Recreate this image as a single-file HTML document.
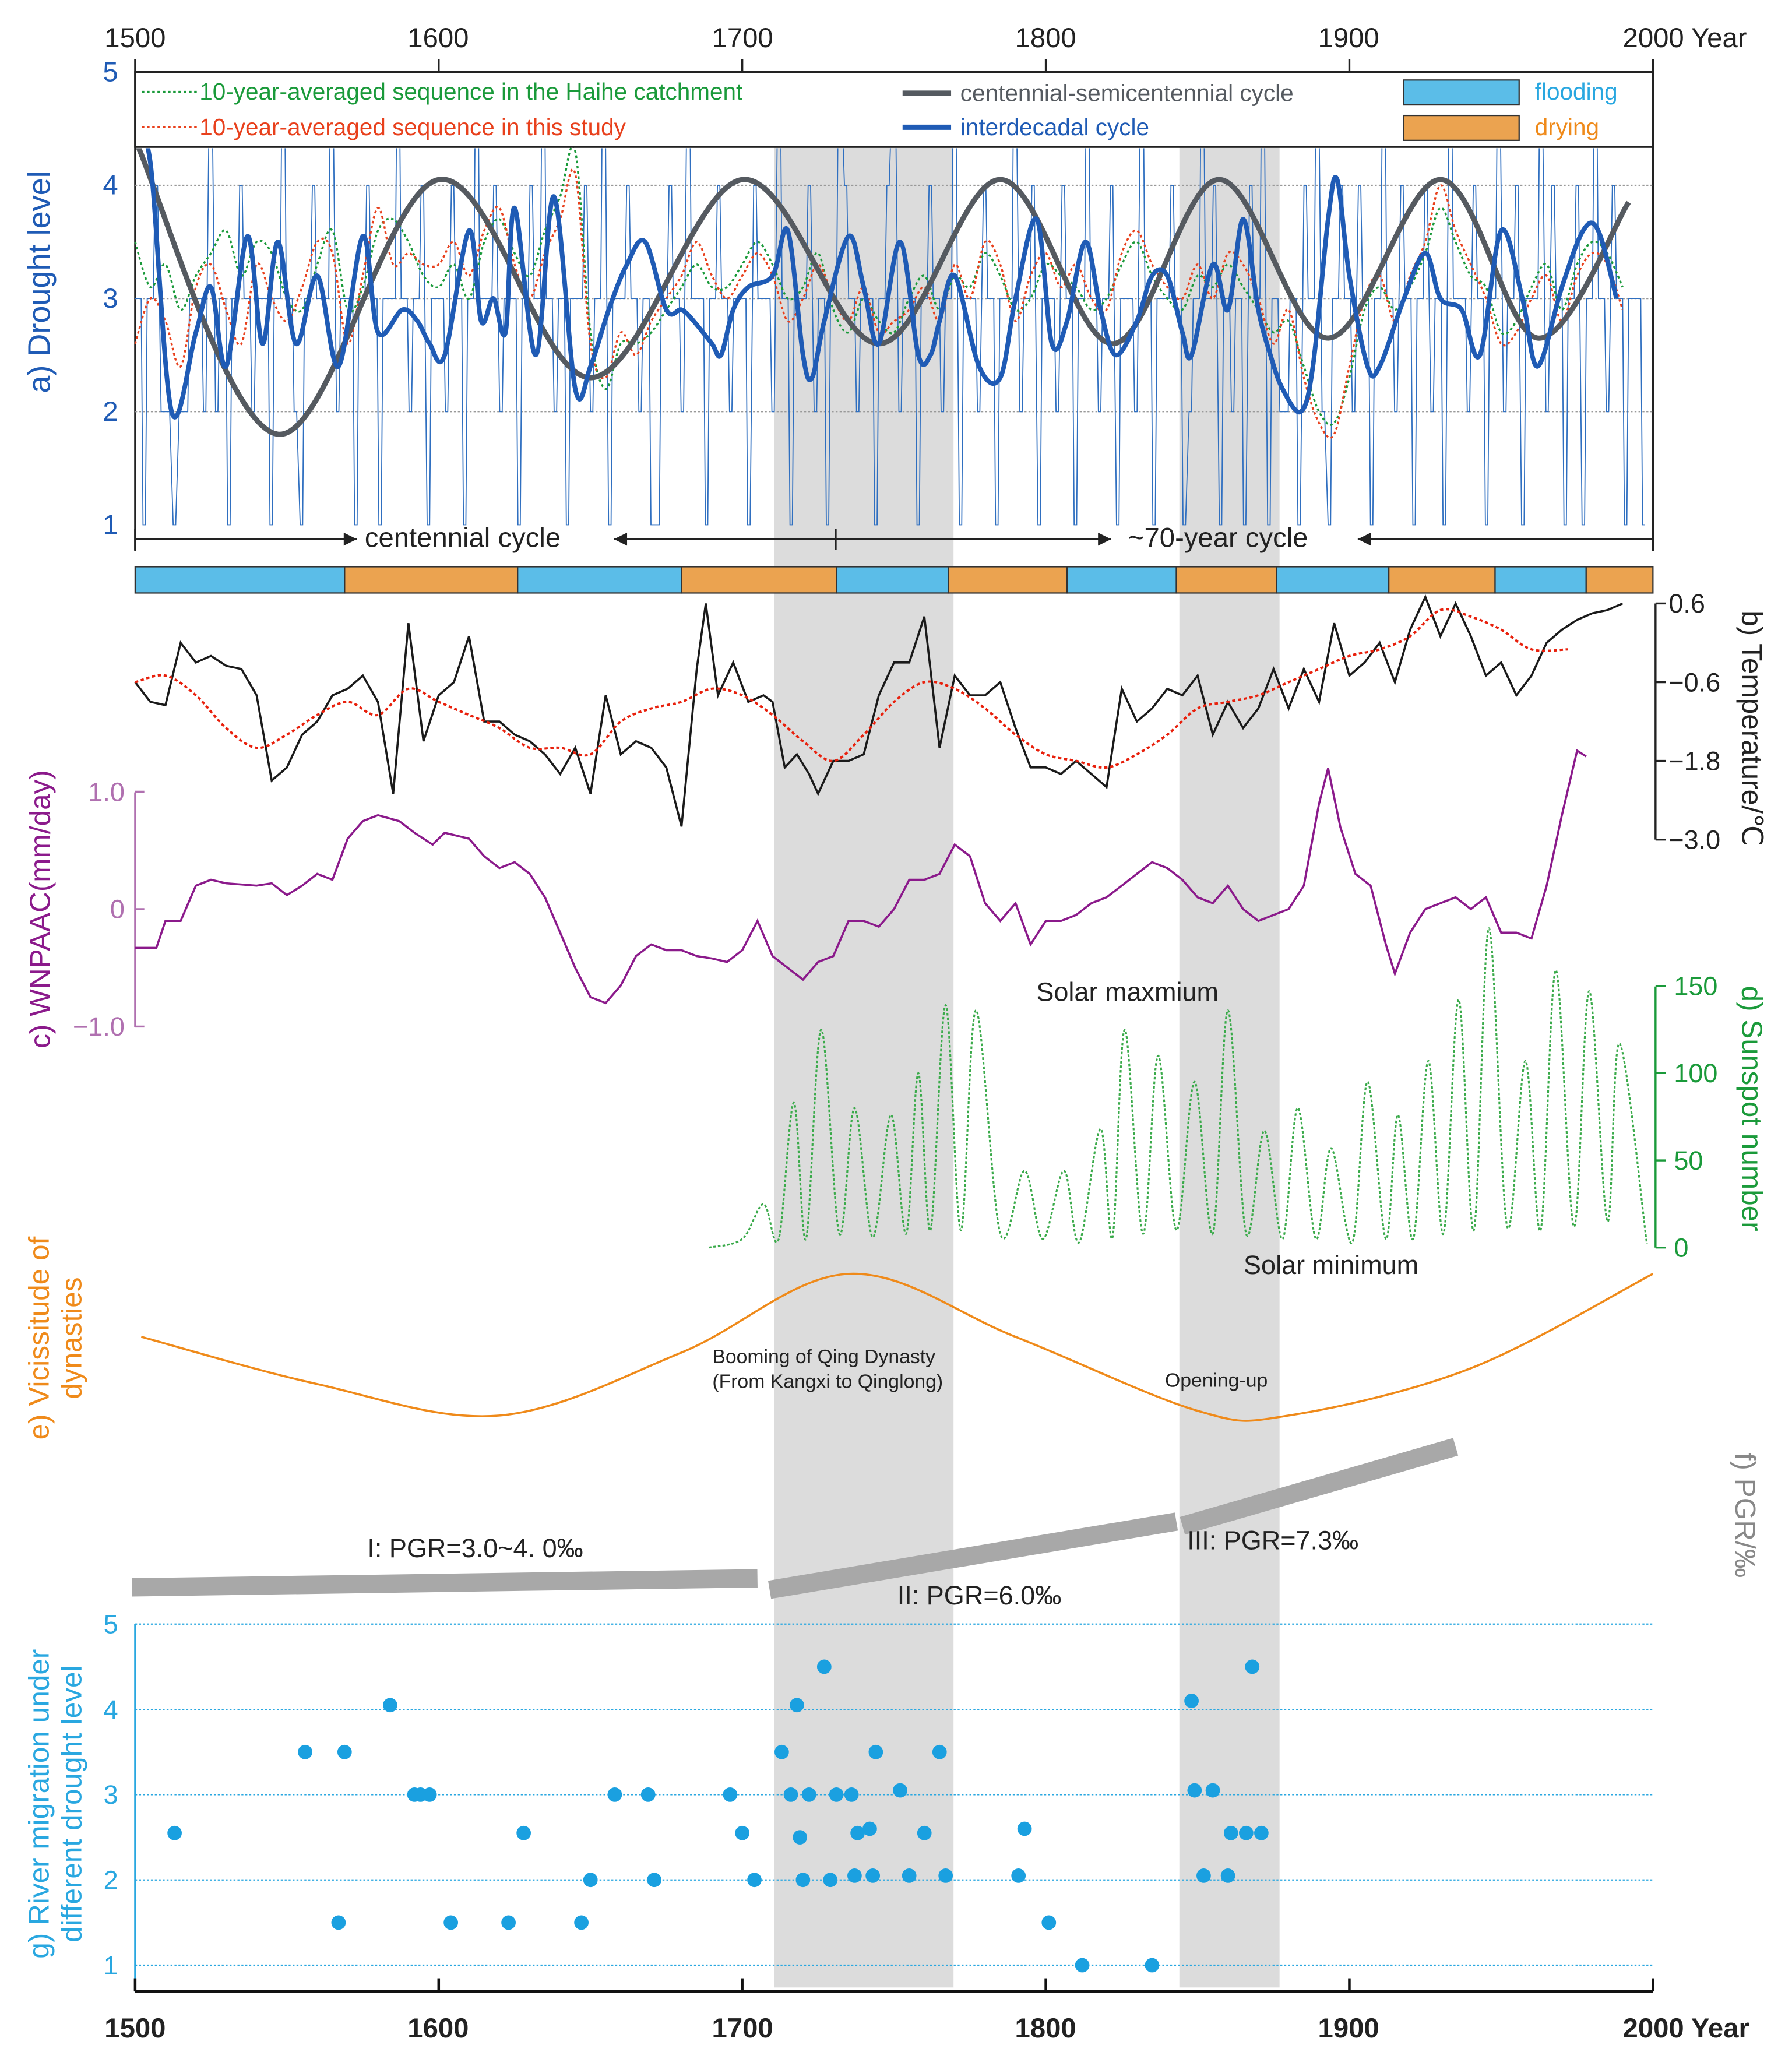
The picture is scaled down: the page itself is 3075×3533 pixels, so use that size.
<!DOCTYPE html>
<html><head><meta charset="utf-8">
<style>
html,body{margin:0;padding:0;background:#fff;}
svg{display:block;font-family:"Liberation Sans",sans-serif;}
</style></head>
<body>
<svg id="chart" xmlns="http://www.w3.org/2000/svg" width="3075" height="3533" viewBox="0 0 1366 1569.5">
<defs><clipPath id="clipA"><rect x="103" y="113" width="1157" height="300"/></clipPath></defs>
<rect x="0" y="0" width="1366" height="1569.5" fill="#fff"/>
<g id="bands"></g>
<g id="content"></g>
<g font-size="21" fill="#222">
<text x="103" y="36" text-anchor="middle">1500</text>
<text x="334" y="36" text-anchor="middle">1600</text>
<text x="566" y="36" text-anchor="middle">1700</text>
<text x="797" y="36" text-anchor="middle">1800</text>
<text x="1028" y="36" text-anchor="middle">1900</text>
<text x="1237" y="36">2000 Year</text>
</g>
<g font-size="21" fill="#222" font-weight="bold">
<text x="103" y="1553" text-anchor="middle">1500</text>
<text x="334" y="1553" text-anchor="middle">1600</text>
<text x="566" y="1553" text-anchor="middle">1700</text>
<text x="797" y="1553" text-anchor="middle">1800</text>
<text x="1028" y="1553" text-anchor="middle">1900</text>
<text x="1237" y="1553">2000 Year</text>
</g>
<g>
<rect x="103" y="55" width="1157" height="57" fill="#fff" stroke="#222" stroke-width="1.5"/>
<line x1="108" y1="70" x2="150" y2="70" stroke="#1a9a3a" stroke-width="1.5" stroke-dasharray="2,2"/>
<text x="152" y="76" font-size="18" fill="#1a9a3a">10-year-averaged sequence in the Haihe catchment</text>
<line x1="108" y1="97" x2="150" y2="97" stroke="#e8401c" stroke-width="1.5" stroke-dasharray="2,2"/>
<text x="152" y="103" font-size="18" fill="#e8401c">10-year-averaged sequence in this study</text>
<line x1="688" y1="71" x2="725" y2="71" stroke="#555a60" stroke-width="4"/>
<text x="732" y="77" font-size="18" fill="#555a60">centennial-semicentennial  cycle</text>
<line x1="688" y1="97" x2="725" y2="97" stroke="#1f5bb5" stroke-width="4"/>
<text x="732" y="103" font-size="18" fill="#1f5bb5">interdecadal cycle</text>
<rect x="1070" y="61" width="88" height="19" fill="#5bbde8" stroke="#333" stroke-width="1"/>
<text x="1170" y="76" font-size="18" fill="#29a7e0">flooding</text>
<rect x="1070" y="88" width="88" height="19" fill="#eba350" stroke="#333" stroke-width="1"/>
<text x="1170" y="103" font-size="18" fill="#ef8a1a">drying</text>
</g>
<text transform="translate(38,215) rotate(-90)" text-anchor="middle" font-size="24" fill="#1f5bb5">a) Drought  level</text>
<text transform="translate(1328,555) rotate(90)" text-anchor="middle" font-size="22" fill="#222">b) Temperature/℃</text>
<text transform="translate(38,693) rotate(-90)" text-anchor="middle" font-size="22" fill="#8b1a8b">c) WNPAAC(mm/day)</text>
<text transform="translate(1328,845) rotate(90)" text-anchor="middle" font-size="22" fill="#1a9a3a">d) Sunspot number</text>
<text transform="translate(37,1020) rotate(-90)" text-anchor="middle" font-size="22" fill="#ef8a1a">e) Vicissitude of</text>
<text transform="translate(62,1020) rotate(-90)" text-anchor="middle" font-size="22" fill="#ef8a1a">dynasties</text>
<text transform="translate(1323,1155) rotate(90)" text-anchor="middle" font-size="22" fill="#888">f) PGR/‰</text>
<text transform="translate(37,1375) rotate(-90)" text-anchor="middle" font-size="22" fill="#29a7e0">g) River migration under</text>
<text transform="translate(62,1375) rotate(-90)" text-anchor="middle" font-size="22" fill="#29a7e0">different drought  level</text>
<text x="790" y="763" font-size="20" fill="#222">Solar maxmium</text>
<text x="948" y="971" font-size="20" fill="#222">Solar minimum</text>
<text x="543" y="1039" font-size="15" fill="#222">Booming of Qing Dynasty</text>
<text x="543" y="1058" font-size="15" fill="#222">(From Kangxi to Qinglong)</text>
<text x="888" y="1057" font-size="15" fill="#222">Opening-up</text>
<text x="280" y="1187" font-size="20" fill="#222">I:  PGR=3.0~4. 0‰</text>
<text x="684" y="1223" font-size="20" fill="#222">II:  PGR=6.0‰</text>
<text x="905" y="1181" font-size="20" fill="#222">III:  PGR=7.3‰</text>
<text x="278" y="417" font-size="21" fill="#222">centennial cycle</text>
<text x="860" y="417" font-size="21" fill="#222">~70-year cycle</text>
</svg>
<script>
// ---------- DATA ----------
const bandStart = [1710.5, 1844];
const bandEnd = [1769.6, 1877];
const droughtAnnual = [3,1,3,4,2,2,1,2,2,3,
3,2,5,2,3,1,3,4,3,2,
3,3,1,3,5,3,2,1,3,4,
3,3,5,2,3,3,1,3,4,3,
1,3,3,5,3,2,3,4,1,3,
3,2,4,3,1,3,5,3,3,4,
2,3,3,1,3,4,3,5,3,2,
3,1,3,3,4,2,3,5,1,3,
3,4,3,2,3,1,1,3,4,3,
2,5,3,3,1,3,4,3,2,3,
3,1,4,3,3,2,5,3,1,3,
3,4,2,3,1,3,5,4,3,2,
3,3,1,3,4,5,2,3,3,1,
3,4,3,2,3,5,1,3,3,2,
4,3,1,3,3,5,2,3,4,1,
3,3,2,4,3,1,3,5,3,2,
3,4,1,3,3,2,5,3,1,3,
3,4,3,1,2,3,5,3,4,1,
3,2,3,1,4,3,5,1,3,2,
2,3,1,4,3,5,2,1,3,4,
3,2,4,3,1,3,5,3,2,4,
3,1,3,4,2,3,1,5,3,3,
2,4,3,1,3,5,2,3,4,1,
3,3,5,2,4,3,1,3,4,1,
3,5,3,2,4,3,1,3,3,1];
const centYears = [1500,1547,1600,1650,1700,1745,1785,1822,1857,1893,1930,1962,1992];
const centVals = [4.4,1.8,4.05,2.3,4.05,2.6,4.05,2.6,4.05,2.65,4.05,2.65,3.85];
const interYears = [1500,1505,1512,1520,1525,1530,1537,1542,1547,1553,1560,1567,1575,1580,1588,1593,1597,1602,1610,1614,1618,1622,1625,1632,1638,1645,1650,1656,1662,1668,1675,1680,1684,1690,1693,1697,1702,1710,1715,1720,1723,1727,1735,1740,1745,1752,1758,1762,1765,1770,1778,1785,1790,1797,1802,1807,1813,1818,1823,1830,1835,1840,1845,1848,1855,1860,1865,1870,1874,1878,1884,1888,1893,1896,1900,1906,1910,1918,1925,1930,1937,1943,1950,1957,1962,1970,1977,1982,1988];
const interVals = [4.4,4.2,2.0,2.7,3.1,2.4,3.55,2.6,3.5,2.6,3.2,2.4,3.55,2.7,2.9,2.8,2.6,2.5,3.6,2.8,3.0,2.7,3.8,2.5,3.9,2.2,2.4,2.9,3.3,3.5,2.9,2.9,2.8,2.6,2.5,2.9,3.1,3.2,3.6,2.5,2.3,2.8,3.55,3.1,2.6,3.5,2.5,2.5,2.8,3.2,2.4,2.3,3.0,3.7,2.6,2.8,3.5,2.9,2.5,2.8,3.2,3.2,2.7,2.5,3.3,2.9,3.7,2.9,2.5,2.2,2.0,2.4,3.7,4.05,3.2,2.4,2.4,3.0,3.4,3.0,2.9,2.5,3.6,3.0,2.4,3.1,3.6,3.6,3.0];
const avgYears = [1500,1505,1510,1515,1520,1525,1530,1535,1540,1545,1550,1555,1560,1565,1570,1575,1580,1585,1590,1595,1600,1605,1610,1615,1620,1625,1630,1635,1640,1645,1650,1655,1660,1665,1670,1675,1680,1685,1690,1695,1700,1705,1710,1715,1720,1725,1730,1735,1740,1745,1750,1755,1760,1765,1770,1775,1780,1785,1790,1795,1800,1805,1810,1815,1820,1825,1830,1835,1840,1845,1850,1855,1860,1865,1870,1875,1880,1885,1890,1895,1900,1905,1910,1915,1920,1925,1930,1935,1940,1945,1950,1955,1960,1965,1970,1975,1980,1985,1990];
const redAvg = [2.6,3.0,2.8,2.4,3.1,3.3,2.9,2.6,3.3,3.0,2.8,3.1,3.5,3.4,2.6,3.2,3.8,3.3,3.4,3.3,3.3,3.5,3.2,3.6,3.8,3.3,3.0,3.4,3.7,4.1,2.6,2.3,2.7,2.5,2.8,3.0,3.2,3.5,3.2,3.0,3.2,3.4,3.2,2.8,3.0,3.3,3.0,2.8,3.1,2.7,2.8,2.9,3.1,2.8,3.3,3.0,3.5,3.3,2.8,3.2,3.4,3.1,3.3,3.0,2.9,3.4,3.6,3.3,3.1,3.0,3.3,3.0,3.4,3.3,3.0,2.6,2.9,2.3,1.9,1.8,2.4,3.0,3.2,2.8,3.2,3.5,4.0,3.6,3.3,3.0,2.6,2.7,3.0,3.2,2.8,3.2,3.4,3.3,2.9];
const greenAvg = [3.5,3.1,3.3,2.9,3.2,3.4,3.6,3.2,3.5,3.4,3.0,2.9,3.3,3.6,2.9,3.1,3.6,3.7,3.5,3.2,3.1,3.3,3.0,3.5,3.7,3.4,3.2,3.6,3.9,4.3,2.7,2.2,2.6,2.6,2.7,2.9,3.1,3.3,3.1,3.1,3.3,3.5,3.3,3.0,3.1,3.4,2.9,2.7,3.0,2.8,2.7,3.0,3.2,2.9,3.2,3.1,3.4,3.2,2.9,3.0,3.3,3.2,3.1,2.9,3.0,3.3,3.5,3.2,3.0,2.9,3.2,3.1,3.3,3.1,2.9,2.7,2.8,2.4,2.0,1.9,2.3,2.9,3.1,2.9,3.1,3.4,3.8,3.5,3.2,3.1,2.7,2.8,3.1,3.3,2.9,3.3,3.5,3.4,3.1];
const floodBounds = [1500,1569,1626,1680,1731,1768,1807,1843,1876,1913,1948,1978,2000];
const floodTypes = ["flood","dry","flood","dry","flood","dry","flood","dry","flood","dry","flood","dry"];
const tempYears = [1500,1505,1510,1515,1520,1525,1530,1535,1540,1545,1550,1555,1560,1565,1570,1575,1580,1585,1590,1595,1600,1605,1610,1615,1620,1625,1630,1635,1640,1645,1650,1655,1660,1665,1670,1675,1680,1685,1688,1692,1697,1702,1707,1710,1714,1718,1722,1725,1730,1735,1740,1745,1750,1755,1760,1765,1770,1775,1780,1785,1790,1795,1800,1805,1810,1815,1820,1825,1830,1835,1840,1845,1850,1855,1860,1865,1870,1875,1880,1885,1890,1895,1900,1905,1910,1915,1920,1925,1930,1935,1940,1945,1950,1955,1960,1965,1970,1975,1980,1985,1990];
const tempVals = [-0.6,-0.9,-0.95,0.0,-0.3,-0.2,-0.35,-0.4,-0.8,-2.1,-1.9,-1.4,-1.2,-0.8,-0.7,-0.5,-0.9,-2.3,0.3,-1.5,-0.8,-0.6,0.1,-1.2,-1.2,-1.4,-1.5,-1.7,-2.0,-1.6,-2.3,-0.8,-1.7,-1.5,-1.6,-1.9,-2.8,-0.4,0.6,-0.8,-0.3,-0.9,-0.8,-0.9,-1.9,-1.7,-2.0,-2.3,-1.8,-1.8,-1.7,-0.8,-0.3,-0.3,0.4,-1.6,-0.5,-0.8,-0.8,-0.6,-1.3,-1.9,-1.9,-2.0,-1.8,-2.0,-2.2,-0.7,-1.2,-1.0,-0.7,-0.8,-0.5,-1.4,-0.9,-1.3,-1.0,-0.4,-1.0,-0.4,-0.9,0.3,-0.5,-0.3,0.0,-0.6,0.2,0.7,0.1,0.6,0.1,-0.5,-0.3,-0.8,-0.5,0.0,0.2,0.35,0.45,0.5,0.6];
const tempAvgYears = [1500,1510,1520,1530,1540,1550,1560,1570,1580,1590,1600,1610,1620,1630,1640,1650,1660,1670,1680,1690,1700,1710,1720,1730,1740,1750,1760,1770,1780,1790,1800,1810,1820,1830,1840,1850,1860,1870,1880,1890,1900,1910,1920,1930,1940,1950,1960,1972];
const tempAvg = [-0.6,-0.5,-0.8,-1.3,-1.6,-1.4,-1.1,-0.9,-1.1,-0.7,-0.9,-1.1,-1.3,-1.6,-1.6,-1.7,-1.2,-1.0,-0.9,-0.7,-0.8,-1.1,-1.5,-1.8,-1.4,-0.9,-0.6,-0.7,-1.0,-1.4,-1.7,-1.8,-1.9,-1.7,-1.4,-1.0,-0.9,-0.8,-0.6,-0.4,-0.2,-0.1,0.1,0.5,0.4,0.2,-0.1,-0.1];
const wnYears = [1500,1507,1510,1515,1520,1525,1530,1540,1545,1550,1555,1560,1565,1570,1575,1580,1587,1592,1598,1602,1610,1615,1620,1625,1630,1635,1640,1645,1650,1655,1660,1665,1670,1675,1680,1685,1690,1695,1700,1705,1710,1715,1720,1725,1730,1735,1740,1745,1750,1755,1760,1765,1770,1775,1780,1785,1790,1795,1800,1805,1810,1815,1820,1825,1830,1835,1840,1845,1850,1855,1860,1865,1870,1875,1880,1885,1890,1893,1897,1902,1907,1912,1915,1920,1925,1930,1935,1940,1945,1950,1955,1960,1965,1970,1975,1978];
const wnVals = [-0.33,-0.33,-0.1,-0.1,0.2,0.25,0.22,0.2,0.22,0.12,0.2,0.3,0.25,0.6,0.75,0.8,0.75,0.65,0.55,0.65,0.6,0.45,0.35,0.4,0.3,0.1,-0.2,-0.5,-0.75,-0.8,-0.65,-0.4,-0.3,-0.35,-0.35,-0.4,-0.42,-0.45,-0.35,-0.1,-0.4,-0.5,-0.6,-0.45,-0.4,-0.1,-0.1,-0.15,0.0,0.25,0.25,0.3,0.55,0.45,0.05,-0.1,0.05,-0.3,-0.1,-0.1,-0.05,0.05,0.1,0.2,0.3,0.4,0.35,0.25,0.1,0.05,0.2,0.0,-0.1,-0.05,0.0,0.2,0.9,1.2,0.7,0.3,0.2,-0.3,-0.55,-0.2,0.0,0.05,0.1,0.0,0.1,-0.2,-0.2,-0.25,0.2,0.8,1.35,1.3];
const sunYears = [1689,1700,1707,1712,1717,1721,1726,1732,1737,1743,1749,1754,1758,1762,1767,1772,1777,1785,1793,1799,1806,1811,1818,1822,1826,1832,1837,1843,1849,1855,1860,1866,1872,1878,1883,1889,1894,1901,1906,1912,1916,1921,1926,1931,1936,1941,1946,1952,1958,1963,1968,1974,1979,1985,1989,1998];
const sunVals = [0,5,25,5,83,5,125,8,80,6,76,8,100,10,139,10,136,8,44,5,44,3,68,6,125,8,110,10,95,8,136,8,67,5,80,5,57,3,95,5,76,5,107,8,142,10,183,12,107,10,159,12,147,15,117,2];
const dynYears = [1502,1560,1620,1680,1735,1790,1850,1880,1940,2000];
const dynLevel = [0.55,0.25,0.05,0.45,0.95,0.55,0.08,0.05,0.35,0.95];
const pgrStartYear = [1499,1709,1845];
const pgrEndYear = [1705,1843,1935];
const pgrStartRate = [3.0,2.96,4.02];
const pgrEndRate = [3.15,4.09,5.33];
const riverYears = [1513,1556,1567,1569,1584,1592,1594,1597,1604,1623,1628,1647,1650,1658,1669,1671,1696,1700,1704,1713,1716,1718,1719,1720,1722,1727,1729,1731,1736,1737,1738,1742,1743,1744,1752,1755,1760,1765,1767,1791,1793,1801,1812,1835,1848,1849,1852,1855,1860,1861,1866,1868,1871];
const riverLevels = [2.55,3.5,1.5,3.5,4.05,3,3,3,1.5,1.5,2.55,1.5,2,3,3,2,3,2.55,2,3.5,3,4.05,2.5,2,3,4.5,2,3,3,2.05,2.55,2.6,2.05,3.5,3.05,2.05,2.55,3.5,2.05,2.05,2.6,1.5,1.0,1.0,4.1,3.05,2.05,3.05,2.05,2.55,2.55,4.5,2.55];
const droughtTicks = ["1","2","3","4","5"];
const tempTicks = ["0.6","−0.6","−1.8","−3.0"];
const tempTickVals = [0.6,-0.6,-1.8,-3.0];
const wnTicks = ["1.0","0","−1.0"];
const wnTickVals = [1,0,-1];
const sunTicks = ["150","100","50","0"];
const sunTickVals = [150,100,50,0];

// ---------- SCALES ----------
const NS = "http://www.w3.org/2000/svg";
const X = y => 103 + (y - 1500) * (1157 / 500);
const Yd = v => 400 - (v - 1) * 86.25;
const Yt = t => 640 - (t + 3) * 50;
const Yw = w => 693 - w * 89.5;
const Ys = s => 951 - s * 1.33;
const Yr = v => 1498 - (v - 1) * 65;
const Ydyn = l => 1085 - l * 120;
const Ypgr = r => 1210 - (r - 3) * 46;
const content = document.getElementById('content');
function mk(tag, attrs, parent) {
  const el = document.createElementNS(NS, tag);
  for (const k in attrs) el.setAttribute(k, attrs[k]);
  (parent || content).appendChild(el);
  return el;
}
function linePath(pts) { return pts.map((p, i) => (i ? 'L' : 'M') + p[0].toFixed(1) + ',' + p[1].toFixed(1)).join(''); }
function smoothPath(pts) {
  let d = 'M' + pts[0][0] + ',' + pts[0][1];
  for (let i = 0; i < pts.length - 1; i++) {
    const p0 = pts[i - 1] || pts[i], p1 = pts[i], p2 = pts[i + 1], p3 = pts[i + 2] || p2;
    const c1 = [p1[0] + (p2[0] - p0[0]) / 6, p1[1] + (p2[1] - p0[1]) / 6];
    const c2 = [p2[0] - (p3[0] - p1[0]) / 6, p2[1] - (p3[1] - p1[1]) / 6];
    d += 'C' + c1[0].toFixed(1) + ',' + c1[1].toFixed(1) + ' ' + c2[0].toFixed(1) + ',' + c2[1].toFixed(1) + ' ' + p2[0].toFixed(1) + ',' + p2[1].toFixed(1);
  }
  return d;
}

const bandsG = document.getElementById('bands');
for (let i = 0; i < bandStart.length; i++) {
  const r = mk('rect', {x: X(bandStart[i]), y: 112, width: X(bandEnd[i]) - X(bandStart[i]), height: 1403, fill: '#dcdcdc'}, bandsG);
  
  
}

// ---------- PANEL A ----------
let el = mk('line', {x1: 103, y1: 55, x2: 1260, y2: 55, stroke: '#222', 'stroke-width': 2});


for (let y = 1500; y <= 2000; y += 100) mk('line', {x1: X(y), y1: 45, x2: X(y), y2: 55, stroke: '#222', 'stroke-width': 1.5});
el = mk('line', {x1: 103, y1: 55, x2: 103, y2: 420, stroke: '#222', 'stroke-width': 1.5});


mk('line', {x1: 1260, y1: 55, x2: 1260, y2: 420, stroke: '#222', 'stroke-width': 1.5});
droughtTicks.forEach(t => {
  const v = +t;
  const tx = mk('text', {x: 90, y: Yd(v) + 7, 'text-anchor': 'end', 'font-size': 21, fill: '#1f5bb5'});
  tx.textContent = t;
  
  
  if (v >= 2 && v <= 4) {
    const g = mk('line', {x1: 103, y1: Yd(v), x2: 1260, y2: Yd(v), stroke: '#999', 'stroke-width': 1, 'stroke-dasharray': '1.5,1.5'});
    
    
  }
});
{
  const step = 496 / (droughtAnnual.length - 1);
  const pts = [];
  droughtAnnual.forEach((v, i) => {
    const yr = 1500 + i * step;
    if (v === 3) { pts.push([X(yr), Yd(v)]); pts.push([X(yr + step), Yd(v)]); }
    else { pts.push([X(yr + step * 0.3), Yd(v)]); pts.push([X(yr + step * 0.7), Yd(v)]); }
  });
  el = mk('path', {d: linePath(pts), fill: 'none', stroke: '#2f6fc0', 'stroke-width': 0.8, 'clip-path': 'url(#clipA)'});
  
  
}
el = mk('path', {d: smoothPath(avgYears.map((y, i) => [X(y), Yd(greenAvg[i])])), fill: 'none', stroke: '#1a9a3a', 'stroke-width': 1.5, 'stroke-dasharray': '2,2'});


el = mk('path', {d: smoothPath(avgYears.map((y, i) => [X(y), Yd(redAvg[i])])), fill: 'none', stroke: '#e8401c', 'stroke-width': 1.5, 'stroke-dasharray': '2,2'});


el = mk('path', {d: smoothPath(centYears.map((y, i) => [X(y), Yd(centVals[i])])), fill: 'none', stroke: '#555a60', 'stroke-width': 4, 'clip-path': 'url(#clipA)'});


el = mk('path', {d: smoothPath(interYears.map((y, i) => [X(y), Yd(interVals[i])])), fill: 'none', stroke: '#1f5bb5', 'stroke-width': 3.5, 'clip-path': 'url(#clipA)'});


const arrows = [[103, 272], [637, 468], [637, 847], [1260, 1035]];
arrows.forEach(a => {
  mk('line', {x1: a[0], y1: 411, x2: a[1], y2: 411, stroke: '#222', 'stroke-width': 1.5});
  const dir = a[1] > a[0] ? 1 : -1;
  mk('path', {d: `M${a[1]},411 l${-dir * 10},-5 l0,10 z`, fill: '#222'});
});
[103, 637, 1260].forEach(x => mk('line', {x1: x, y1: 403, x2: x, y2: 419, stroke: '#222', 'stroke-width': 1.5}));
floodTypes.forEach((t, i) => {
  const r = mk('rect', {x: X(floodBounds[i]), y: 432, width: X(floodBounds[i + 1]) - X(floodBounds[i]), height: 20, fill: t === 'flood' ? '#5bbde8' : '#eba350', stroke: '#333', 'stroke-width': 1});
  
  
});

// ---------- PANEL B ----------
el = mk('line', {x1: 1262, y1: 460, x2: 1262, y2: 640, stroke: '#222', 'stroke-width': 1.5});


tempTicks.forEach((t, i) => {
  mk('line', {x1: 1262, y1: Yt(tempTickVals[i]), x2: 1270, y2: Yt(tempTickVals[i]), stroke: '#222', 'stroke-width': 1.5});
  const tx = mk('text', {x: 1272, y: Yt(tempTickVals[i]) + 7, 'font-size': 20, fill: '#222'});
  tx.textContent = t;
  
  
});
el = mk('path', {d: linePath(tempYears.map((y, i) => [X(y), Yt(tempVals[i])])), fill: 'none', stroke: '#1a1a1a', 'stroke-width': 1.6});


el = mk('path', {d: smoothPath(tempAvgYears.map((y, i) => [X(y), Yt(tempAvg[i])])), fill: 'none', stroke: '#e8200c', 'stroke-width': 1.8, 'stroke-dasharray': '2.5,2'});



// ---------- PANEL C ----------
el = mk('line', {x1: 103, y1: 604, x2: 103, y2: 783, stroke: '#b070b0', 'stroke-width': 1.5});


wnTicks.forEach((t, i) => {
  mk('line', {x1: 103, y1: Yw(wnTickVals[i]), x2: 110, y2: Yw(wnTickVals[i]), stroke: '#b070b0', 'stroke-width': 1.5});
  const tx = mk('text', {x: 95, y: Yw(wnTickVals[i]) + 7, 'text-anchor': 'end', 'font-size': 20, fill: '#b070b0'});
  tx.textContent = t;
  
  
});
el = mk('path', {d: linePath(wnYears.map((y, i) => [X(y), Yw(wnVals[i])])), fill: 'none', stroke: '#8b1a8b', 'stroke-width': 1.6});



// ---------- PANEL D ----------
el = mk('line', {x1: 1262, y1: 752, x2: 1262, y2: 951, stroke: '#1a9a3a', 'stroke-width': 1.5});


sunTicks.forEach((t, i) => {
  mk('line', {x1: 1262, y1: Ys(sunTickVals[i]), x2: 1270, y2: Ys(sunTickVals[i]), stroke: '#1a9a3a', 'stroke-width': 1.5});
  const tx = mk('text', {x: 1276, y: Ys(sunTickVals[i]) + 7, 'font-size': 20, fill: '#1a9a3a'});
  tx.textContent = t;
  
  
});
el = mk('path', {d: smoothPath(sunYears.map((y, i) => [X(y), Ys(sunVals[i])])), fill: 'none', stroke: '#3aaa4a', 'stroke-width': 1.4, 'stroke-dasharray': '2,1.5'});



// ---------- PANEL E ----------
el = mk('path', {d: smoothPath(dynYears.map((y, i) => [X(y), Ydyn(dynLevel[i])])), fill: 'none', stroke: '#ef8a1a', 'stroke-width': 1.6});



// ---------- PANEL F ----------
pgrStartYear.forEach((s, i) => {
  const l = mk('line', {x1: X(s), y1: Ypgr(pgrStartRate[i]), x2: X(pgrEndYear[i]), y2: Ypgr(pgrEndRate[i]), stroke: '#a8a8a8', 'stroke-width': 14});
  
  
});

// ---------- PANEL G ----------
el = mk('line', {x1: 103, y1: 1238, x2: 103, y2: 1518, stroke: '#29a7e0', 'stroke-width': 1.5});


droughtTicks.forEach(t => {
  const v = +t;
  const g = mk('line', {x1: 103, y1: Yr(v), x2: 1260, y2: Yr(v), stroke: '#29a7e0', 'stroke-width': 1, 'stroke-dasharray': '1.5,1.5'});
  
  
  const tx = mk('text', {x: 90, y: Yr(v) + 7, 'text-anchor': 'end', 'font-size': 20, fill: '#29a7e0'});
  tx.textContent = t;
  
  
});
riverYears.forEach((y, i) => {
  const c = mk('circle', {cx: X(y), cy: Yr(riverLevels[i]), r: 5.5, fill: '#1aa0e0'});
  
  
});
el = mk('line', {x1: 103, y1: 1518, x2: 1260, y2: 1518, stroke: '#111', 'stroke-width': 2.5});


for (let y = 1500; y <= 2000; y += 100) mk('line', {x1: X(y), y1: 1508, x2: X(y), y2: 1518, stroke: '#111', 'stroke-width': 2});
</script>
</body></html>
